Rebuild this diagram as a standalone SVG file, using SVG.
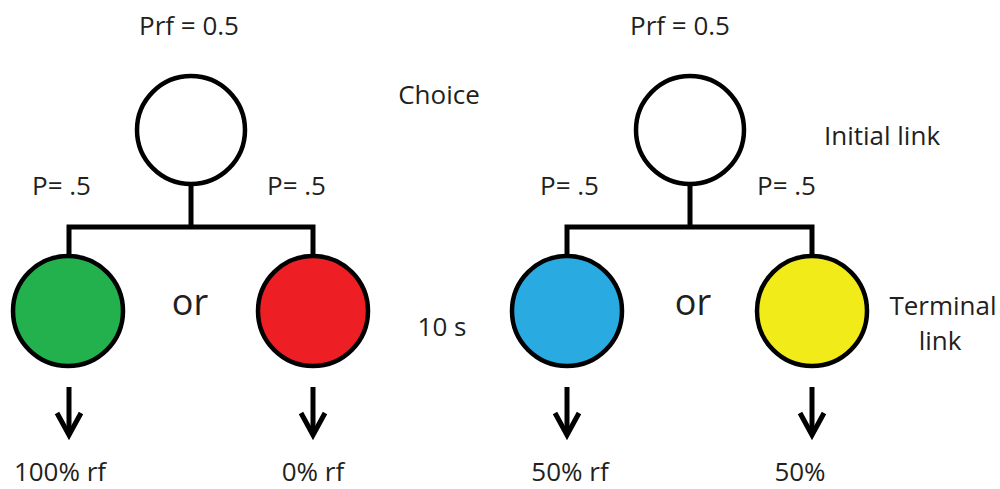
<svg xmlns="http://www.w3.org/2000/svg" width="1000" height="489" viewBox="0 0 1000 489">
  <defs>
    <style>
      text { font-family: "Open Sans", "Noto Sans", sans-serif; font-size: 26px; fill: #231f20; }
      .big { font-size: 36px; }
      .node { stroke: #000; stroke-width: 4.5; }
      .wire { stroke: #000; stroke-width: 5; fill: none; stroke-linecap: square; }
      .arrow { stroke: #000; stroke-width: 5; fill: none; }
    </style>
  </defs>
  <rect width="1000" height="489" fill="#fff"/>

  <!-- tree connectors and outcome arrows -->
  <g id="connectors">
    <path class="wire" d="M191 186 V227 M69 255 V227 H313 V255"/>
    <path class="wire" d="M690 186 V227 M567 255 V227 H812 V255"/>
    <line class="arrow" x1="69" y1="387" x2="69" y2="434"/>
    <line class="arrow" x1="313" y1="387" x2="313" y2="434"/>
    <line class="arrow" x1="567" y1="387" x2="567" y2="434"/>
    <line class="arrow" x1="812" y1="387" x2="812" y2="434"/>
    <path class="arrow" d="M57 413 L69 435 L81 413"/>
    <path class="arrow" d="M301 413 L313 435 L325 413"/>
    <path class="arrow" d="M555 413 L567 435 L579 413"/>
    <path class="arrow" d="M800 413 L812 435 L824 413"/>
  </g>

  <!-- left schedule -->
  <g id="choice-left">
    <circle class="node" cx="191" cy="130" r="54" fill="#fff"/>
    <text x="189" y="35" text-anchor="middle">Prf = 0.5</text>
  </g>
  <g id="green">
    <circle class="node" cx="68" cy="311" r="55" fill="#22b14c"/>
    <text x="60" y="481" text-anchor="middle">100% rf</text>
  </g>
  <g id="red">
    <circle class="node" cx="313" cy="311" r="55" fill="#ed1f24"/>
    <text x="313" y="481" text-anchor="middle">0% rf</text>
  </g>
  <g id="labels-left">
    <text x="32" y="195">P= .5</text>
    <text x="267" y="195">P= .5</text>
    <text class="big" x="190" y="315" text-anchor="middle">or</text>
  </g>

  <!-- middle labels -->
  <g id="labels-mid">
    <text x="439" y="104" text-anchor="middle">Choice</text>
    <text x="442" y="336" text-anchor="middle">10 s</text>
  </g>

  <!-- right schedule -->
  <g id="choice-right">
    <circle class="node" cx="690" cy="130" r="54" fill="#fff"/>
    <text x="680" y="35" text-anchor="middle">Prf = 0.5</text>
  </g>
  <g id="blue">
    <circle class="node" cx="567" cy="311" r="55" fill="#29abe2"/>
    <text x="570" y="481" text-anchor="middle">50% rf</text>
  </g>
  <g id="yellow">
    <circle class="node" cx="812" cy="311" r="55" fill="#f2eb1a"/>
    <text x="800" y="481" text-anchor="middle">50%</text>
  </g>
  <g id="labels-right">
    <text x="540" y="195">P= .5</text>
    <text x="757" y="195">P= .5</text>
    <text class="big" x="693" y="315" text-anchor="middle">or</text>
    <text x="882" y="145" text-anchor="middle">Initial link</text>
    <text x="943" y="315" text-anchor="middle">Terminal</text>
    <text x="940" y="350" text-anchor="middle">link</text>
  </g>
</svg>
